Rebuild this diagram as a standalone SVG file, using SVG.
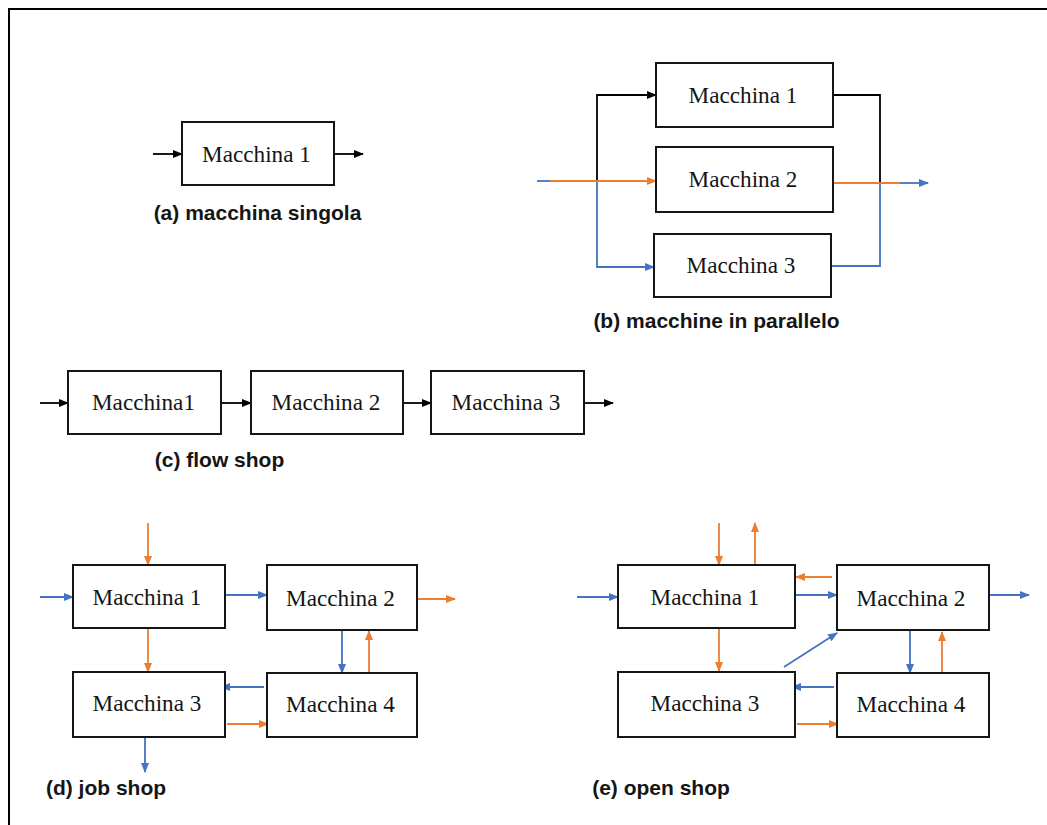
<svg xmlns="http://www.w3.org/2000/svg" width="1047" height="825" viewBox="0 0 1047 825">
<style>
.box{fill:#fff;stroke:#151515;stroke-width:2}
.bt{font-family:"Liberation Serif","Times New Roman",serif;font-size:23.2px;fill:#151515;text-anchor:middle}
.lbl{font-family:"Liberation Sans",Arial,sans-serif;font-weight:bold;font-size:21px;fill:#151515;text-anchor:middle}
.ck{stroke:#000;stroke-width:1.8;fill:none}
.cb{stroke:#4472C4;stroke-width:1.8;fill:none}
.co{stroke:#ED7D31;stroke-width:1.8;fill:none}
</style>
<defs>
<marker id="ak" markerUnits="userSpaceOnUse" markerWidth="10" markerHeight="8" refX="9" refY="4" orient="auto"><path d="M0,0 L10,4 L0,8 z" fill="#000"/></marker>
<marker id="ab" markerUnits="userSpaceOnUse" markerWidth="10" markerHeight="8" refX="9" refY="4" orient="auto"><path d="M0,0 L10,4 L0,8 z" fill="#4472C4"/></marker>
<marker id="ao" markerUnits="userSpaceOnUse" markerWidth="10" markerHeight="8" refX="9" refY="4" orient="auto"><path d="M0,0 L10,4 L0,8 z" fill="#ED7D31"/></marker>
</defs>
<rect x="0" y="0" width="1047" height="825" fill="#fff"/>
<path d="M9,825 V9 H1047" fill="none" stroke="#000" stroke-width="2"/>

<g id="connectors">
<!-- (a) -->
<path class="ck" d="M153,154 H182" marker-end="url(#ak)"/>
<path class="ck" d="M334,154 H363" marker-end="url(#ak)"/>
<!-- (b) -->
<path class="ck" d="M597,181 V95 H656" marker-end="url(#ak)"/>
<path class="cb" d="M597,181 V267 H654" marker-end="url(#ab)"/>
<path class="ck" d="M833,95 H880 V183"/>
<path class="cb" d="M831,266 H880 V183"/>
<path class="cb" d="M537,181 H550"/>
<path class="co" d="M550,181 H656" marker-end="url(#ao)"/>
<path class="co" d="M833,183 H900"/>
<path class="cb" d="M900,183 H928" marker-end="url(#ab)"/>
<!-- (c) -->
<path class="ck" d="M40,403 H68" marker-end="url(#ak)"/>
<path class="ck" d="M221,403 H251" marker-end="url(#ak)"/>
<path class="ck" d="M403,403 H431" marker-end="url(#ak)"/>
<path class="ck" d="M584,403 H613" marker-end="url(#ak)"/>
<!-- (d) -->
<path class="co" d="M148,523 V565" marker-end="url(#ao)"/>
<path class="cb" d="M40,597 H73" marker-end="url(#ab)"/>
<path class="cb" d="M225,595 H267" marker-end="url(#ab)"/>
<path class="co" d="M417,599 H455" marker-end="url(#ao)"/>
<path class="co" d="M148,628 V672" marker-end="url(#ao)"/>
<path class="cb" d="M342,630 V673" marker-end="url(#ab)"/>
<path class="co" d="M369,673 V631" marker-end="url(#ao)"/>
<path class="cb" d="M264,687 H221" marker-end="url(#ab)"/>
<path class="co" d="M227,724 H268" marker-end="url(#ao)"/>
<path class="cb" d="M145,737 V772" marker-end="url(#ab)"/>
<!-- (e) -->
<path class="co" d="M719,523 V565" marker-end="url(#ao)"/>
<path class="co" d="M755,565 V523" marker-end="url(#ao)"/>
<path class="co" d="M832,577 H796" marker-end="url(#ao)"/>
<path class="cb" d="M577,597 H618" marker-end="url(#ab)"/>
<path class="cb" d="M795,595 H837" marker-end="url(#ab)"/>
<path class="cb" d="M989,595 H1029" marker-end="url(#ab)"/>
<path class="co" d="M719,628 V671" marker-end="url(#ao)"/>
<path class="cb" d="M784,667 L837,633" marker-end="url(#ab)"/>
<path class="cb" d="M910,630 V673" marker-end="url(#ab)"/>
<path class="co" d="M942,673 V632" marker-end="url(#ao)"/>
<path class="cb" d="M834,687 H792" marker-end="url(#ab)"/>
<path class="co" d="M797,724 H838" marker-end="url(#ao)"/>
</g>

<g id="a-m1"><rect class="box" x="182" y="122" width="152" height="63"/><text class="bt" x="256.5" y="161.5">Macchina 1</text></g>

<g id="b-m1"><rect class="box" x="656" y="63" width="177" height="64"/><text class="bt" x="743" y="102.5">Macchina 1</text></g>
<g id="b-m2"><rect class="box" x="656" y="147" width="177" height="65"/><text class="bt" x="743" y="187">Macchina 2</text></g>
<g id="b-m3"><rect class="box" x="654" y="234" width="177" height="63"/><text class="bt" x="741" y="273">Macchina 3</text></g>

<g id="c-m1"><rect class="box" x="68" y="371" width="153" height="63"/><text class="bt" x="143.5" y="410">Macchina1</text></g>
<g id="c-m2"><rect class="box" x="251" y="371" width="152" height="63"/><text class="bt" x="326" y="410">Macchina 2</text></g>
<g id="c-m3"><rect class="box" x="431" y="371" width="153" height="63"/><text class="bt" x="506" y="410">Macchina 3</text></g>

<g id="d-m1"><rect class="box" x="73" y="565" width="152" height="63"/><text class="bt" x="147" y="604.5">Macchina 1</text></g>
<g id="d-m2"><rect class="box" x="267" y="565" width="150" height="65"/><text class="bt" x="340.5" y="605.5">Macchina 2</text></g>
<g id="d-m3"><rect class="box" x="73" y="672" width="152" height="65"/><text class="bt" x="147" y="711">Macchina 3</text></g>
<g id="d-m4"><rect class="box" x="267" y="673" width="150" height="64"/><text class="bt" x="340.5" y="712">Macchina 4</text></g>

<g id="e-m1"><rect class="box" x="618" y="565" width="177" height="63"/><text class="bt" x="705" y="604.5">Macchina 1</text></g>
<g id="e-m2"><rect class="box" x="837" y="565" width="152" height="65"/><text class="bt" x="911" y="605.5">Macchina 2</text></g>
<g id="e-m3"><rect class="box" x="618" y="672" width="177" height="65"/><text class="bt" x="705" y="711">Macchina 3</text></g>
<g id="e-m4"><rect class="box" x="837" y="673" width="152" height="64"/><text class="bt" x="911" y="712">Macchina 4</text></g>

<g id="labels">
<text class="lbl" x="257.5" y="220">(a) macchina singola</text>
<text class="lbl" x="716.5" y="328">(b) macchine in parallelo</text>
<text class="lbl" x="219.5" y="467">(c) flow shop</text>
<text class="lbl" x="106" y="795">(d) job shop</text>
<text class="lbl" x="661" y="795">(e) open shop</text>
</g>
</svg>
